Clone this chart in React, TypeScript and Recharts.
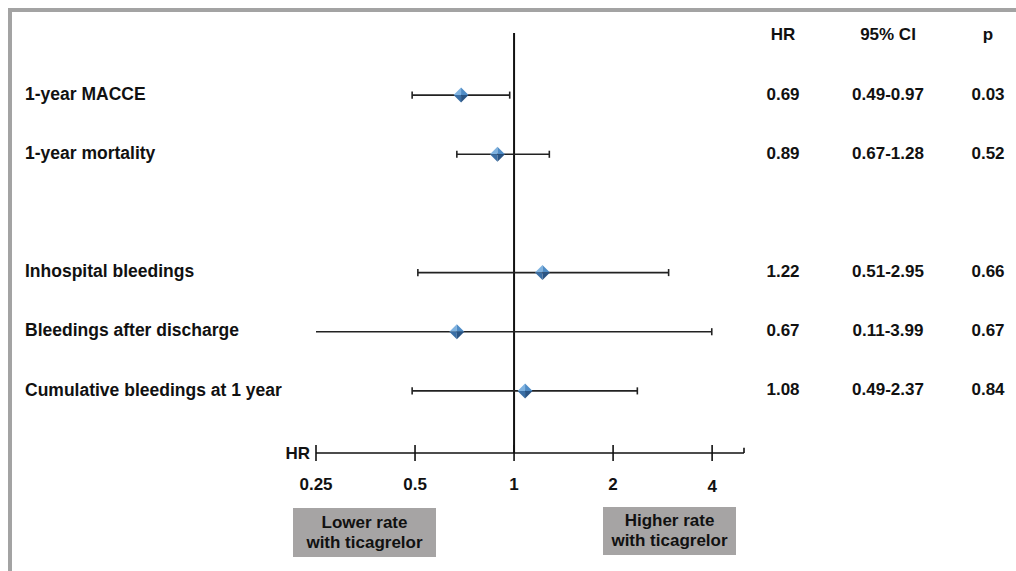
import React from "react";
import {
  ScatterChart,
  Scatter,
  XAxis,
  YAxis,
  ReferenceLine,
} from "recharts";

// rows of the forest plot (row 3 is an empty spacer)
const outcomes = [
  "1-year MACCE",
  "1-year mortality",
  "Inhospital bleedings",
  "Bleedings after discharge",
  "Cumulative bleedings at 1 year",
];
const rowPos = [1, 2, 4, 5, 6];
const hrValues = [0.69, 0.89, 1.22, 0.67, 1.08];
const ciLow = [0.49, 0.67, 0.51, 0.11, 0.49];
const ciHigh = [0.97, 1.28, 2.95, 3.99, 2.37];
const pValues = ["0.03", "0.52", "0.66", "0.67", "0.84"];
const hrTicks = [0.25, 0.5, 1, 2, 4];
const tableHeader = ["HR", "95% CI", "p"];

const FONT = "'Liberation Sans', Arial, sans-serif";
const DOMAIN: [number, number] = [0.25, 5];

const data = outcomes.map((name, i) => ({
  name,
  y: rowPos[i],
  hr: hrValues[i],
  lo: ciLow[i],
  hi: ciHigh[i],
  ci: `${ciLow[i].toFixed(2)}-${ciHigh[i].toFixed(2)}`,
  p: pValues[i],
}));

const COL_HR = 783;
const COL_CI = 888;
const COL_P = 988;
const CAP = 0.06; // half cap height, in row units

function RowTick(props: any) {
  const { y, payload } = props;
  const row = data.find((d) => d.y === payload.value);
  const cells = row ? [row.hr.toFixed(2), row.ci, row.p] : tableHeader;
  const ty = y - 1.5;
  return (
    <g fontFamily={FONT} fontWeight="bold" fill="#111">
      {row && (
        <text x={25} y={ty} dy="0.35em" textAnchor="start" fontSize={17.5} fill="#111">
          {row.name}
        </text>
      )}
      <text x={COL_HR} y={ty} dy="0.35em" textAnchor="middle" fontSize={17} fill="#111">
        {cells[0]}
      </text>
      <text x={COL_CI} y={ty} dy="0.35em" textAnchor="middle" fontSize={17} fill="#111">
        {cells[1]}
      </text>
      <text x={COL_P} y={ty} dy="0.35em" textAnchor="middle" fontSize={17} fill="#111">
        {cells[2]}
      </text>
    </g>
  );
}

function HrTick(props: any) {
  const { x, y, payload, index } = props;
  return (
    <g fontFamily={FONT} fontWeight="bold" fontSize={17}>
      <line x1={x} x2={x} y1={y - 8} y2={y + 8} stroke="#111" strokeWidth={1.6} />
      <text
        x={x}
        y={y + 31 + (payload.value === 4 ? 2 : 0)}
        dy="0.35em"
        textAnchor="middle"
        fill="#111"
      >
        {payload.value}
      </text>
      {index === 0 && (
        <text x={x - 6} y={y} dy="0.35em" textAnchor="end" fill="#111">
          HR
        </text>
      )}
    </g>
  );
}

function Diamond(props: any) {
  const { cx, cy } = props;
  const r = 7.5;
  return (
    <g>
      <polygon points={`${cx},${cy - r} ${cx - r},${cy} ${cx},${cy}`} fill="#7eb2e0" />
      <polygon points={`${cx},${cy - r} ${cx + r},${cy} ${cx},${cy}`} fill="#4f8cc6" />
      <polygon points={`${cx - r},${cy} ${cx},${cy + r} ${cx},${cy}`} fill="#3a6fa6" />
      <polygon points={`${cx + r},${cy} ${cx},${cy + r} ${cx},${cy}`} fill="#2a5585" />
    </g>
  );
}

const boxStyle: React.CSSProperties = {
  position: "absolute",
  background: "#a6a4a4",
  fontFamily: FONT,
  fontWeight: "bold",
  fontSize: 17,
  lineHeight: "20px",
  color: "#111",
  textAlign: "center",
  display: "flex",
  alignItems: "center",
  justifyContent: "center",
};

export default function App() {
  return (
    <div
      style={{
        position: "absolute",
        left: 0,
        top: 0,
        width: 1016,
        height: 571,
        background: "#fff",
        overflow: "hidden",
      }}
    >
      <div style={{ position: "absolute", left: 8, top: 8, width: 1008, height: 4, background: "#a3a3a3" }} />
      <div style={{ position: "absolute", left: 8, top: 8, width: 4, height: 563, background: "#a3a3a3" }} />

      <div style={{ position: "absolute", left: 0, top: 0 }}>
        <ScatterChart
          width={1016}
          height={571}
          margin={{ top: 33, right: 272, bottom: 78, left: 256 }}
        >
          <XAxis
            type="number"
            dataKey="hr"
            scale="log"
            domain={DOMAIN}
            allowDataOverflow
            ticks={hrTicks}
            interval={0}
            height={40}
            tickSize={0}
            tickMargin={0}
            tickLine={false}
            axisLine={{ stroke: "#111", strokeWidth: 1.6 }}
            tick={<HrTick />}
          />
          <YAxis
            type="number"
            dataKey="y"
            reversed
            domain={[-0.05, 7.05]}
            ticks={[0, ...rowPos]}
            interval={0}
            width={60}
            axisLine={false}
            tickLine={false}
            tick={<RowTick />}
          />
          <ReferenceLine x={1} stroke="#111" strokeWidth={2} />
          <ReferenceLine
            segment={[
              { x: DOMAIN[1], y: 7.05 },
              { x: DOMAIN[1], y: 6.96 },
            ]}
            stroke="#111"
            strokeWidth={1.6}
          />
          {/* confidence intervals, clipped to the axis range */}
          {data.map((d) => (
            <ReferenceLine
              key={`ci-${d.y}`}
              segment={[
                { x: d.lo, y: d.y },
                { x: d.hi, y: d.y },
              ]}
              ifOverflow="hidden"
              stroke="#222"
              strokeWidth={1.6}
            />
          ))}
          {data.flatMap((d) =>
            [d.lo, d.hi].map((v, j) => (
              <ReferenceLine
                key={`cap-${d.y}-${j}`}
                segment={[
                  { x: v, y: d.y - CAP },
                  { x: v, y: d.y + CAP },
                ]}
                ifOverflow="hidden"
                stroke="#222"
                strokeWidth={1.6}
              />
            ))
          )}
          <Scatter data={data} shape={<Diamond />} isAnimationActive={false} />
        </ScatterChart>
      </div>

      <div style={{ ...boxStyle, left: 293, top: 508, width: 143, height: 49 }}>
        Lower rate
        <br />
        with ticagrelor
      </div>
      <div style={{ ...boxStyle, left: 603, top: 507, width: 133, height: 48 }}>
        Higher rate
        <br />
        with ticagrelor
      </div>
    </div>
  );
}
